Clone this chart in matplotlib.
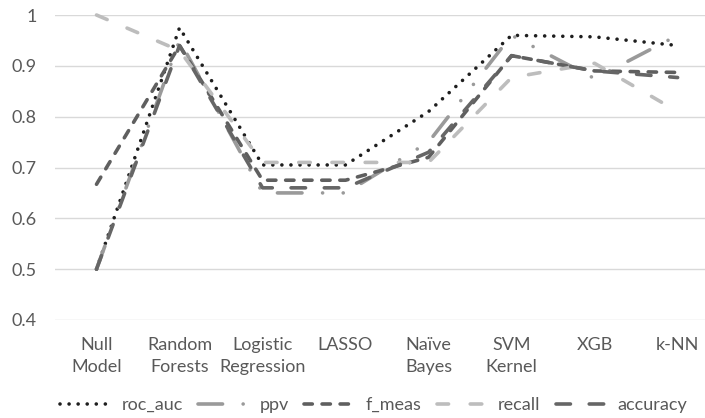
import numpy as np
import matplotlib.pyplot as plt

plt.rcParams['font.family'] = ['Lato', 'DejaVu Sans']

models = ["Null\nModel", "Random\nForests", "Logistic\nRegression", "LASSO",
          "Naïve\nBayes", "SVM\nKernel", "XGB", "k-NN"]
roc_auc = [0.5, 0.975, 0.705, 0.705, 0.81, 0.96, 0.957, 0.94]
ppv = [0.5, 0.95, 0.65, 0.65, 0.75, 0.96, 0.875, 0.96]
f_meas = [0.667, 0.94, 0.675, 0.675, 0.72, 0.92, 0.89, 0.887]
recall = [1.0, 0.93, 0.71, 0.71, 0.71, 0.877, 0.905, 0.81]
accuracy = [0.5, 0.94, 0.66, 0.66, 0.73, 0.92, 0.89, 0.877]
yticks = [0.4, 0.5, 0.6, 0.7, 0.8, 0.9, 1.0]
ytick_labels = ["0.4", "0.5", "0.6", "0.7", "0.8", "0.9", "1"]

txt = '#595959'
lw = 2.6

fig = plt.figure(figsize=(7.05, 4.18), dpi=100)
ax = fig.add_axes([55/705, 1 - 320/418, 650/705, 305/418])
x = np.arange(len(models))

series = [
    (roc_auc, 'roc_auc', '#1e1e1e', (0, (0.01, 2.5))),
    (ppv, 'ppv', '#9a9a9a', (0, (6.8, 5.7, 0.01, 5.7, 0.01, 5.7))),
    (f_meas, 'f_meas', '#5f5f5f', (0, (2.3, 2.7))),
    (recall, 'recall', '#bdbdbd', (0, (3.2, 6.0))),
    (accuracy, 'accuracy', '#666666', (0, (4.0, 5.2))),
]
for vals, name, col, ls in series:
    ax.plot(x, vals, color=col, lw=lw, linestyle=ls, label=name,
            dash_capstyle='round', solid_capstyle='round', clip_on=False)

ax.set_xlim(-0.5, 7.33)
ax.set_ylim(0.4, 1.0)
ax.set_yticks(yticks)
ax.set_yticklabels(ytick_labels)
ax.set_xticks(x)
ax.set_xticklabels(models, linespacing=1.45)
ax.grid(axis='y', color='#d9d9d9', lw=1)
ax.set_axisbelow(True)
for s in ax.spines.values():
    s.set_visible(False)
ax.tick_params(axis='both', length=0, colors=txt, labelsize=13)
ax.tick_params(axis='y', pad=13)
ax.tick_params(axis='x', pad=12)

fig.legend(loc='center', bbox_to_anchor=(0.53, 0.031), ncol=5, frameon=False,
           fontsize=13, labelcolor=txt, handlelength=3.0, handletextpad=0.4,
           columnspacing=0.85)

fig.savefig('out.png', dpi=100)
